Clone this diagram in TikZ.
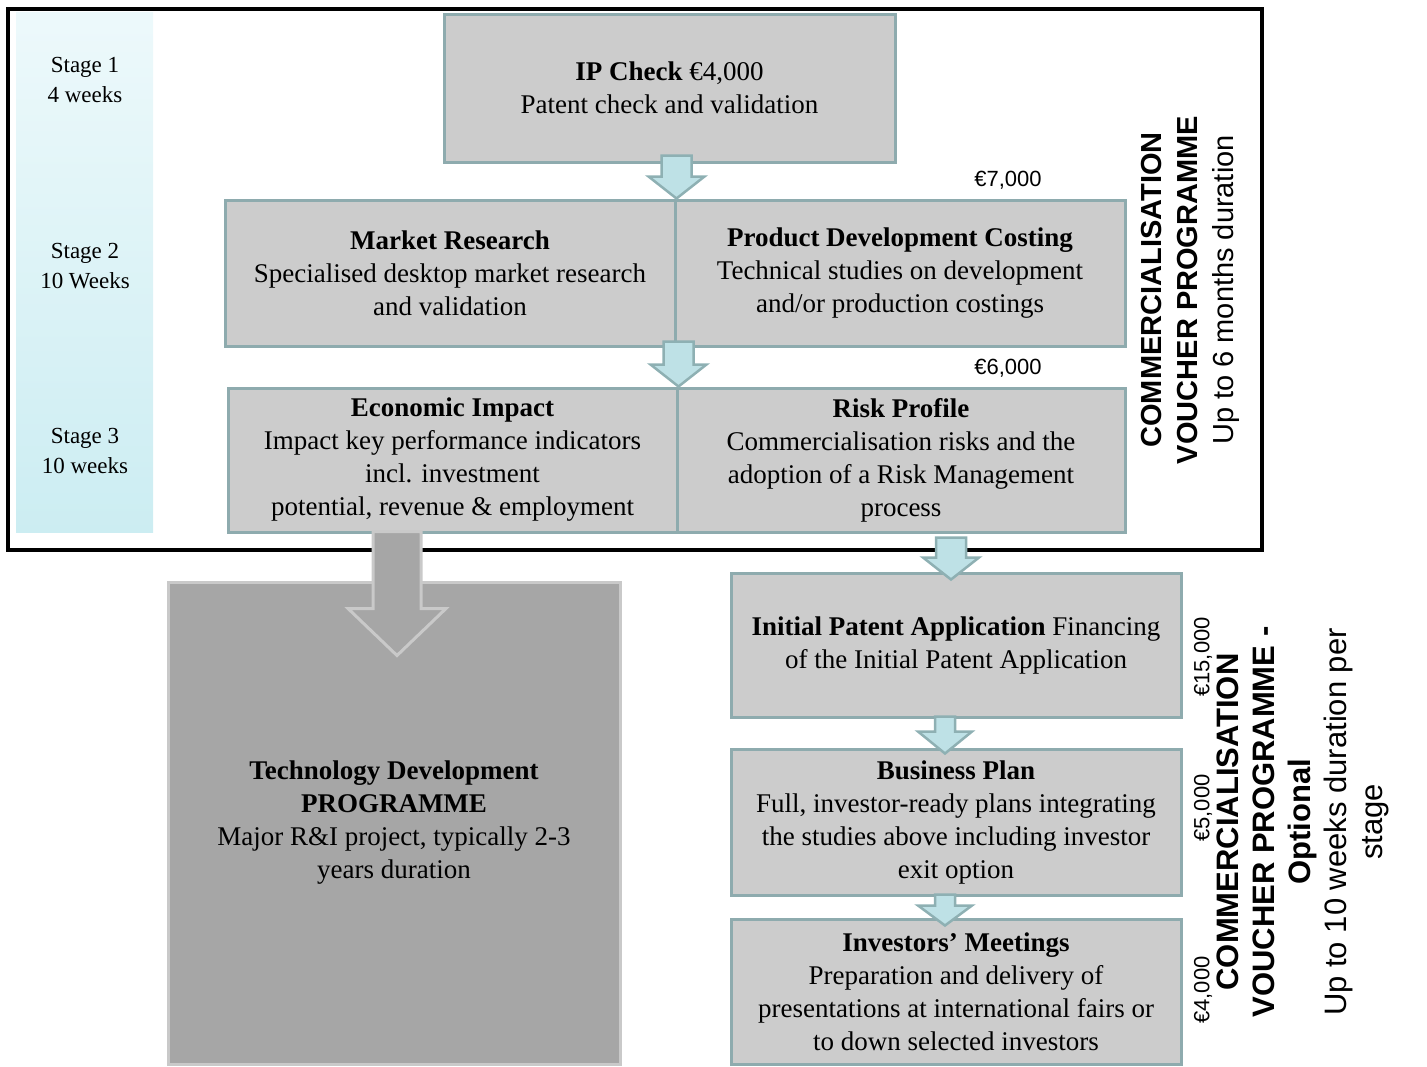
\documentclass[tikz,border=0pt]{standalone}
\usepackage{fontspec}
\setmainfont{Liberation Serif}
\setsansfont{Liberation Sans}
\usetikzlibrary{calc}

\definecolor{boxfill}{HTML}{CCCCCC}
\definecolor{boxline}{HTML}{8EABAE}
\definecolor{tdfill}{HTML}{A6A6A6}
\definecolor{tdline}{HTML}{C9C9C9}
\definecolor{arrfill}{HTML}{BEE1E6}
\definecolor{arrline}{HTML}{8EB0B3}
\definecolor{coltop}{HTML}{EDF9FB}
\definecolor{colbot}{HTML}{CCEDF2}

% block arrow straight down: top point, tip, shaft half width, head half width, head length
\newcommand{\blockarrow}[6][cyanarrow]{%
  \draw[#1] let \p1=(#2), \p2=(#3) in
    (\x2-#4,\y1) -- (\x2+#4,\y1) -- (\x2+#4,\y2+#6) -- (\x2+#5,\y2+#6) -- (\x2,\y2)
    -- (\x2-#5,\y2+#6) -- (\x2-#4,\y2+#6) -- cycle;}

\begin{document}
\begin{tikzpicture}[x=1pt,y=-1pt,
    box/.style={draw=boxline, fill=boxfill, line width=3pt, align=center, inner sep=0pt,
      font=\fontsize{27}{33}\selectfont},
    tdbox/.style={box, draw=tdline, fill=tdfill},
    stagetext/.style={align=center, font=\fontsize{23}{30}\selectfont},
    price/.style={font=\sffamily\fontsize{22}{26}\selectfont},
    vlabel/.style={align=center, rotate=90},
    cyanarrow/.style={draw=arrline, fill=arrfill, line width=2.5pt, line join=miter},
    greyarrow/.style={draw=tdline, fill=tdfill, line width=3pt, line join=miter}]
  \useasboundingbox (0,0) rectangle (1427,1066);

  % stage column and outer frame
  \node[draw=black, line width=4pt, minimum width=1254pt, minimum height=541pt] (frame) at (635,279.5) {};
  \node[top color=coltop, bottom color=colbot, minimum width=137pt, minimum height=520pt, inner sep=0pt] (col) at (84.5,272) {};
  \node[stagetext] (s1) at (85,80) {Stage 1\\4 weeks};
  \node[stagetext] (s2) at (85,266) {Stage 2\\10 Weeks};
  \node[stagetext] (s3) at (85,451) {Stage 3\\10 weeks};

  % stage boxes
  \node[box, minimum width=451pt, minimum height=148pt] (ip) at (669.5,88)
    {\textbf{IP Check} €4,000\\Patent check and validation};
  \node[box, minimum width=450pt, minimum height=146pt] (mr) at (450,273)
    {\textbf{Market Research}\\Specialised desktop market research\\and validation};
  \node[box, minimum width=450pt, minimum height=146pt] (pd) at (900,273)
    {\textbf{Product Development Costing}\\Technical studies on development\\and/or production costings};
  \node[box, minimum width=449pt, minimum height=144pt] (ei) at (452.5,460)
    {\textbf{Economic Impact}\\Impact key performance indicators\\incl. investment\\potential, revenue \& employment};
  \node[box, minimum width=448pt, minimum height=144pt] (rp) at (901,460)
    {\textbf{Risk Profile}\\Commercialisation risks and the\\adoption of a Risk Management\\process};
  \node[price] (p7) at (1008,180) {€7,000};
  \node[price] (p6) at (1008,368) {€6,000};

  \node[vlabel, font=\sffamily\fontsize{29}{36}\selectfont] (cvp) at (1190,290)
    {\textbf{COMMERCIALISATION}\\\textbf{VOUCHER PROGRAMME}\\Up to 6 months duration};

  % technology development
  \node[tdbox, minimum width=452pt, minimum height=482pt] (td) at (394,823)
    {\textbf{Technology Development}\\\textbf{PROGRAMME}\\Major R\&I project, typically 2-3\\years duration};

  % optional stages
  \node[box, minimum width=450pt, minimum height=144pt] (ipa) at (956,645)
    {\textbf{Initial Patent Application} Financing\\of the Initial Patent Application};
  \node[box, minimum width=450pt, minimum height=146pt] (bp) at (956,822)
    {\textbf{Business Plan}\\Full, investor-ready plans integrating\\the studies above including investor\\exit option};
  \node[box, minimum width=450pt, minimum height=145pt] (im) at (956,991.5)
    {\textbf{Investors' Meetings}\\Preparation and delivery of\\presentations at international fairs or\\to down selected investors};
  \node[price, rotate=90] (p15) at (1203,657) {€15,000};
  \node[price, rotate=90] (p5) at (1203,808) {€5,000};
  \node[price, rotate=90] (p4) at (1203,990) {€4,000};

  \node[vlabel, font=\sffamily\fontsize{31}{36}\selectfont] (cvpo) at (1303,822)
    {\textbf{COMMERCIALISATION}\\\textbf{VOUCHER PROGRAMME -}\\\textbf{Optional}\\Up to 10 weeks duration per\\stage};

  % arrows
  \blockarrow{$(ip.south)+(0,-8)$}{mr.north east}{15pt}{28pt}{22pt}
  \blockarrow{$(mr.south east)+(0,-6)$}{ei.north east}{15pt}{28pt}{22pt}
  \blockarrow{$(rp.south)+(0,4)$}{$(ipa.north)+(-5,8)$}{15pt}{28pt}{22pt}
  \blockarrow{$(ipa.south)+(0,-2)$}{$(bp.north)+(-11,6)$}{10pt}{27pt}{22pt}
  \blockarrow{$(bp.south)+(0,-2)$}{$(im.north)+(-11,8)$}{10pt}{27pt}{20pt}
  \blockarrow[greyarrow]{$(ei.south)+(0,-2)$}{$(td.north)+(3,75)$}{24pt}{49pt}{47pt}
\end{tikzpicture}
\end{document}
